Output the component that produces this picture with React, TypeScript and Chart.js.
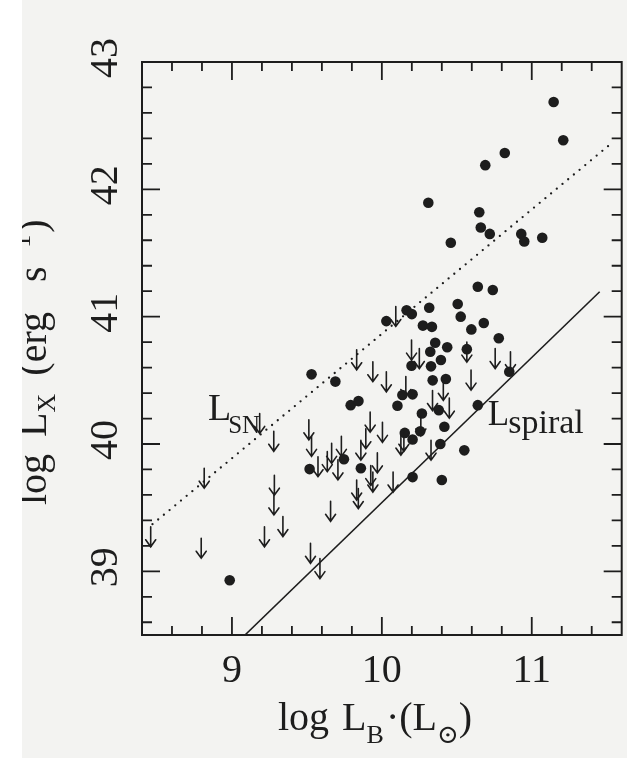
import React, { useEffect, useRef } from 'react';
import { Chart, registerables } from 'chart.js';

Chart.register(...registerables);

// ---- data ----
const dotX = [11.146, 11.21, 10.82, 10.69, 10.31, 10.65, 10.66, 10.72, 10.46, 10.93, 10.95, 11.07, 10.64, 10.74,
  10.165, 10.2, 10.316, 10.506, 10.526, 10.68, 10.597, 10.274, 10.334, 10.78, 10.356, 10.436, 10.567, 10.323,
  10.394, 10.198, 10.328, 10.85, 10.339, 10.427, 10.137, 10.205, 10.104, 10.64, 10.03, 9.531, 9.69, 9.792, 9.844,
  10.267, 10.38, 10.153, 10.205, 10.256, 10.417, 10.39, 10.55, 10.205, 10.4, 9.747, 9.86, 9.518, 8.985];
const dotY = [42.686, 42.385, 42.285, 42.19, 41.895, 41.82, 41.7, 41.65, 41.58, 41.65, 41.59, 41.62, 41.235, 41.21,
  41.05, 41.02, 41.07, 41.1, 41.0, 40.95, 40.9, 40.93, 40.92, 40.83, 40.795, 40.76, 40.745, 40.725,
  40.66, 40.615, 40.61, 40.567, 40.5, 40.51, 40.385, 40.39, 40.3, 40.305, 40.965, 40.547, 40.49, 40.305, 40.337,
  40.24, 40.266, 40.087, 40.035, 40.1, 40.135, 40.0, 39.95, 39.74, 39.717, 39.88, 39.81, 39.803, 38.93];

// upper limits (value = top of the arrow)
const limX = [10.093, 10.567, 10.198, 10.25, 10.756, 10.858, 10.595, 10.16, 10.338, 10.45, 10.41, 9.832, 9.94,
  10.03, 10.26, 10.147, 8.458, 8.795, 8.815, 9.279, 9.283, 9.28, 9.34, 9.217, 9.185, 9.524, 9.587, 9.513, 9.531,
  9.574, 9.636, 9.665, 9.73, 9.707, 9.658, 9.832, 9.843, 9.86, 9.893, 9.922, 9.926, 9.94, 9.97, 10.004, 10.075,
  10.127, 10.328];
const limY = [41.08, 40.8, 40.816, 40.75, 40.75, 40.725, 40.58, 40.53, 40.42, 40.36, 40.5, 40.74, 40.646,
  40.567, 40.22, 40.1, 39.35, 39.26, 39.81, 40.1, 39.755, 39.6, 39.43, 39.35, 40.24, 39.22, 39.1, 40.19, 40.06,
  39.9, 39.94, 40.005, 40.06, 39.875, 39.55, 39.717, 39.65, 40.03, 40.12, 40.25, 39.83, 39.78, 39.93, 40.17, 39.78,
  40.07, 40.03];

const lsnX = [8.47, 11.52];
const lsnY = [39.37, 42.35];
const lspX = [9.087, 11.453];
const lspY = [38.5, 41.196];

const xTicks = [9, 10, 11];
const xTickLabels = ['9', '10', '11'];
const yTicks = [39, 40, 41, 42, 43];
const yTickLabels = ['39', '40', '41', '42', '43'];

const X_MIN = 8.4, X_MAX = 11.6, Y_MIN = 38.5, Y_MAX = 43;

const INK = '#1d1d1d';
const SERIF = '"Liberation Serif", "DejaVu Serif", serif';

const toPts = (xs: number[], ys: number[]) => xs.map((x, i) => ({ x, y: ys[i] }));

const paperPlugin = {
  id: 'paper',
  beforeDraw(chart: any) {
    const { ctx, width, height } = chart;
    ctx.save();
    ctx.fillStyle = '#f3f3f1';
    ctx.fillRect(0, 0, width, height);
    ctx.restore();
  },
};

const framePlugin = {
  id: 'frame',
  afterDatasetsDraw(chart: any) {
    const ctx: CanvasRenderingContext2D = chart.ctx;
    const { left, right, top, bottom } = chart.chartArea;
    const xs = chart.scales.x, ys = chart.scales.y;
    ctx.save();
    ctx.strokeStyle = INK;
    ctx.fillStyle = INK;

    // upper-limit arrows
    const idx = chart.data.datasets.findIndex((d: any) => d.label === 'limits');
    const meta = chart.getDatasetMeta(idx);
    ctx.lineWidth = 1.6;
    ctx.lineCap = 'round';
    meta.data.forEach((el: any) => {
      const x = el.x, y = el.y;
      const len = 20;
      ctx.beginPath();
      ctx.moveTo(x, y);
      ctx.lineTo(x, y + len);
      ctx.moveTo(x - 5, y + len - 7);
      ctx.lineTo(x, y + len);
      ctx.lineTo(x + 5, y + len - 7);
      ctx.stroke();
    });

    // frame
    ctx.lineWidth = 2;
    ctx.lineCap = 'butt';
    ctx.strokeRect(left, top, right - left, bottom - top);

    // ticks (inward, all four sides)
    ctx.lineWidth = 1.8;
    ctx.beginPath();
    for (let k = Math.ceil(X_MIN * 5 + 1e-9); k <= Math.floor(X_MAX * 5 - 1e-9); k++) {
      const v = k / 5;
      const len = k % 5 === 0 ? 18 : 9;
      const px = xs.getPixelForValue(v);
      ctx.moveTo(px, bottom); ctx.lineTo(px, bottom - len);
      ctx.moveTo(px, top); ctx.lineTo(px, top + len);
    }
    for (let k = Math.ceil(Y_MIN * 5 + 1e-9); k <= Math.floor(Y_MAX * 5 - 1e-9); k++) {
      const v = k / 5;
      const len = k % 5 === 0 ? 18 : 10;
      const py = ys.getPixelForValue(v);
      ctx.moveTo(left, py); ctx.lineTo(left + len, py);
      ctx.moveTo(right, py); ctx.lineTo(right - len, py);
    }
    ctx.stroke();

    // tick labels
    ctx.font = `40px ${SERIF}`;
    ctx.textAlign = 'center';
    ctx.textBaseline = 'alphabetic';
    xTicks.forEach((v, i) => {
      ctx.fillText(xTickLabels[i], xs.getPixelForValue(v), bottom + 47);
    });
    yTicks.forEach((v, i) => {
      ctx.save();
      ctx.translate(left - 25, ys.getPixelForValue(v) - 4);
      ctx.rotate(-Math.PI / 2);
      ctx.fillText(yTickLabels[i], 0, 0);
      ctx.restore();
    });

    // rich text helper (pieces laid out sequentially)
    const drawRich = (pieces: { t: string; size: number; dy: number; gap?: number }[]) => {
      let x = 0;
      pieces.forEach((p) => {
        x += p.gap || 0;
        ctx.font = `${p.size}px ${SERIF}`;
        ctx.fillText(p.t, x, p.dy);
        x += ctx.measureText(p.t).width;
      });
    };
    ctx.textAlign = 'left';

    // x title: log L_B·(L_⊙)
    ctx.save();
    ctx.translate(278, bottom + 95);
    drawRich([
      { t: 'log', size: 40, dy: 0 },
      { t: 'L', size: 40, dy: 0, gap: 13 },
      { t: 'B', size: 26, dy: 13 },
      { t: '·(L', size: 40, dy: 0, gap: 2 },
      { t: '⊙', size: 26, dy: 13 },
      { t: ')', size: 40, dy: 0 },
    ]);
    ctx.restore();

    // y title: log L_X (erg s^-1), rotated
    ctx.save();
    ctx.translate(46, 505);
    ctx.rotate(-Math.PI / 2);
    drawRich([
      { t: 'log', size: 40, dy: 0 },
      { t: 'L', size: 40, dy: 0, gap: 17 },
      { t: 'X', size: 26, dy: 9 },
      { t: '(erg', size: 40, dy: 0, gap: 18 },
      { t: 's', size: 40, dy: 0, gap: 30 },
      { t: '−1', size: 26, dy: -16, gap: 4 },
      { t: ')', size: 40, dy: 0, gap: 2 },
    ]);
    ctx.restore();

    // line labels
    ctx.save();
    ctx.translate(xs.getPixelForValue(8.84), ys.getPixelForValue(40.19));
    drawRich([
      { t: 'L', size: 38, dy: 0 },
      { t: 'SN', size: 25, dy: 13, gap: -3 },
    ]);
    ctx.restore();
    ctx.save();
    ctx.translate(xs.getPixelForValue(10.707), ys.getPixelForValue(40.15));
    drawRich([
      { t: 'L', size: 35, dy: 0 },
      { t: 'spiral', size: 34, dy: 8, gap: -1 },
    ]);
    ctx.restore();

    // white scan margin on the left
    ctx.fillStyle = '#ffffff';
    ctx.fillRect(0, 0, 22, chart.height);
    ctx.restore();
  },
};

export default function App() {
  const ref = useRef<HTMLCanvasElement | null>(null);
  useEffect(() => {
    document.body.style.margin = '0';
    const chart = new Chart(ref.current as HTMLCanvasElement, {
      type: 'scatter',
      data: {
        datasets: [
          {
            label: 'detections',
            data: toPts(dotX, dotY),
            pointRadius: 5.3,
            pointBackgroundColor: INK,
            pointBorderWidth: 0,
            order: 0,
          } as any,
          {
            label: 'limits',
            data: toPts(limX, limY),
            pointRadius: 0,
            pointHoverRadius: 0,
            order: 1,
          } as any,
          {
            label: 'L_SN',
            type: 'line',
            data: toPts(lsnX, lsnY),
            borderColor: INK,
            borderWidth: 2.3,
            borderDash: [0, 7.4],
            borderCapStyle: 'round',
            pointRadius: 0,
            fill: false,
            order: 2,
          } as any,
          {
            label: 'L_spiral',
            type: 'line',
            data: toPts(lspX, lspY),
            borderColor: INK,
            borderWidth: 1.6,
            pointRadius: 0,
            fill: false,
            order: 2,
          } as any,
        ],
      },
      options: {
        animation: false,
        responsive: false,
        events: [],
        layout: { padding: { left: 142, top: 62, right: 5, bottom: 123 } },
        plugins: { legend: { display: false }, tooltip: { enabled: false } },
        scales: {
          x: { type: 'linear', min: X_MIN, max: X_MAX, display: false },
          y: { type: 'linear', min: Y_MIN, max: Y_MAX, display: false },
        },
      },
      plugins: [paperPlugin, framePlugin],
    });
    return () => chart.destroy();
  }, []);
  return (
    <div style={{ position: 'absolute', left: 0, top: 0, width: 627, height: 758 }}>
      <canvas ref={ref} width={627} height={758} />
    </div>
  );
}
